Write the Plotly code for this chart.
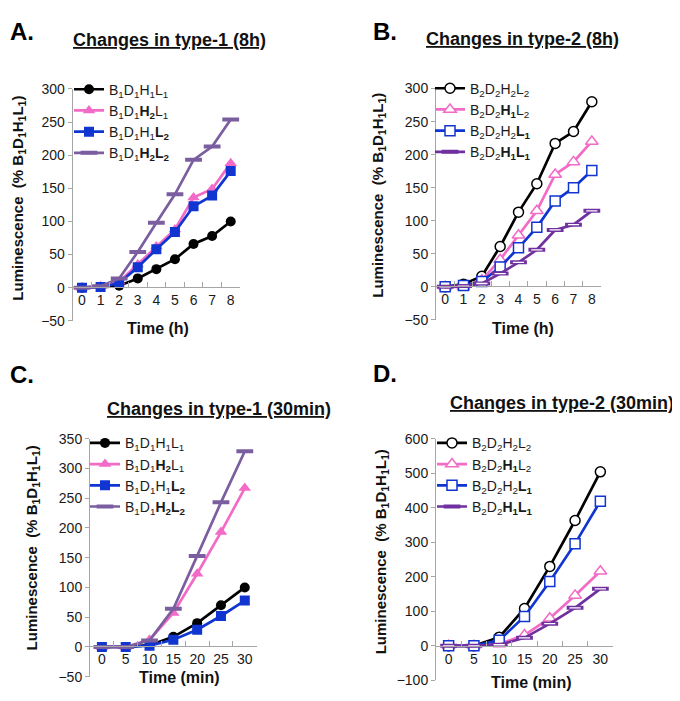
import plotly.graph_objects as go

# ---------------- data ----------------
hours = ["0", "1", "2", "3", "4", "5", "6", "7", "8"]
minutes = ["0", "5", "10", "15", "20", "25", "30"]

# Panel A: changes in type-1 (8h)
a_b1d1h1l1 = [0, 1, 3, 14, 28, 43, 66, 78, 100]
a_b1d1h2l1 = [0, 2, 9, 35, 62, 88, 136, 149, 188]
a_b1d1h1l2 = [0, 1, 7, 31, 58, 84, 123, 139, 176]
a_b1d1h2l2 = [0, 2, 14, 54, 98, 141, 193, 213, 254]

# Panel B: changes in type-2 (8h)
b_b2d2h2l2 = [0, 4, 16, 61, 113, 156, 217, 235, 280]
b_b2d2h1l2 = [0, 0, 10, 41, 78, 115, 170, 189, 220]
b_b2d2h2l1 = [0, 2, 8, 30, 59, 90, 130, 150, 176]
b_b2d2h1l1 = [0, 1, 5, 20, 37, 56, 86, 94, 115]

# Panel C: changes in type-1 (30min)
c_b1d1h1l1 = [0, 0, 3, 17, 40, 70, 100]
c_b1d1h2l1 = [0, 0, 12, 57, 123, 193, 267]
c_b1d1h1l2 = [0, 0, 2, 12, 29, 52, 78]
c_b1d1h2l2 = [0, 0, 11, 64, 153, 243, 329]

# Panel D: changes in type-2 (30min)
d_b2d2h2l2 = [0, 0, 25, 108, 230, 363, 504]
d_b2d2h1l2 = [0, 0, 5, 31, 80, 146, 216]
d_b2d2h2l1 = [0, 0, 16, 85, 186, 296, 419]
d_b2d2h1l1 = [0, 0, 3, 23, 64, 110, 165]

names_type1 = [
    "B<sub>1</sub>D<sub>1</sub>H<sub>1</sub>L<sub>1</sub>",
    "B<sub>1</sub>D<sub>1</sub><b>H<sub>2</sub></b>L<sub>1</sub>",
    "B<sub>1</sub>D<sub>1</sub>H<sub>1</sub><b>L<sub>2</sub></b>",
    "B<sub>1</sub>D<sub>1</sub><b>H<sub>2</sub>L<sub>2</sub></b>",
]
names_type2 = [
    "B<sub>2</sub>D<sub>2</sub>H<sub>2</sub>L<sub>2</sub>",
    "B<sub>2</sub>D<sub>2</sub><b>H<sub>1</sub></b>L<sub>2</sub>",
    "B<sub>2</sub>D<sub>2</sub>H<sub>2</sub><b>L<sub>1</sub></b>",
    "B<sub>2</sub>D<sub>2</sub><b>H<sub>1</sub>L<sub>1</sub></b>",
]

# page is 680x701; the HTML body has an 8px default margin
OFF = 8
W, H = 680 - OFF, 701 - OFF
FONT = "Arial, Liberation Sans, sans-serif"
BLACK = "#000000"
PINK = "#F26BC6"
BLUE = "#1035D0"
PURPLE_A = "#7B5EA0"
PURPLE_B = "#7030A0"
AXIS = "#A6A6A6"
TXT = "#1a1a1a"

fig = go.Figure()


def fx(p):
    """page x pixel -> paper fraction"""
    return (p - OFF) / W


def fy(p):
    """page y pixel -> paper fraction"""
    return (H - (p - OFF)) / H


panels = [
    dict(n=1, cats=hours,
         series=[a_b1d1h1l1, a_b1d1h2l1, a_b1d1h1l2, a_b1d1h2l2],
         names=names_type1, filled=True, purple=PURPLE_A,
         xd=(72.7, 240), yd=(82.7, 320), yr=(-50, 300), dt=50, zero=285.7,
         leg=(69, 67)),
    dict(n=2, cats=hours,
         series=[b_b2d2h2l2, b_b2d2h1l2, b_b2d2h2l1, b_b2d2h1l1],
         names=names_type2, filled=False, purple=PURPLE_B,
         xd=(436, 601), yd=(82.3, 319), yr=(-50, 300), dt=50, zero=284.3,
         leg=(430, 66)),
    dict(n=3, cats=minutes,
         series=[c_b1d1h1l1, c_b1d1h2l1, c_b1d1h1l2, c_b1d1h2l2],
         names=names_type1, filled=True, purple=PURPLE_A,
         xd=(90, 256.7), yd=(440.7, 684.3), yr=(-50, 350), dt=50, zero=653.3,
         leg=(85, 429)),
    dict(n=4, cats=minutes,
         series=[d_b2d2h2l2, d_b2d2h1l2, d_b2d2h2l1, d_b2d2h1l1],
         names=names_type2, filled=False, purple=PURPLE_B,
         xd=(436, 613), yd=(440.7, 688), yr=(-100, 600), dt=100, zero=653.3,
         leg=(432, 429)),
]

layout_axes = {}
for p in panels:
    n = p["n"]
    xa = "x" if n == 1 else f"x{n}"
    ya = "y" if n == 1 else f"y{n}"
    leg = "legend" if n == 1 else f"legend{n}"
    colors = [BLACK, PINK, BLUE, p["purple"]]
    symbols = ["circle", "triangle-up", "square", "line-ew"]
    sizes = [10, 11, 10, 12]
    for i, (vals, name) in enumerate(zip(p["series"], p["names"])):
        sym = symbols[i]
        if sym == "line-ew":
            marker = dict(symbol=sym, size=sizes[i], line=dict(color=colors[i], width=4))
        elif p["filled"]:
            marker = dict(symbol=sym, size=sizes[i], color=colors[i],
                          line=dict(color=colors[i], width=0))
        else:
            marker = dict(symbol=sym, size=sizes[i], color="white",
                          line=dict(color=colors[i], width=1.5))
        fig.add_trace(go.Scatter(
            x=p["cats"], y=vals, name=name, mode="lines+markers",
            line=dict(color=colors[i], width=2.7), marker=marker,
            xaxis=xa, yaxis=ya, legend=leg, showlegend=True,
        ))
    if not p["filled"]:
        # white core of the flat purple rectangle markers
        fig.add_trace(go.Scatter(
            x=p["cats"], y=p["series"][3], mode="markers",
            marker=dict(symbol="line-ew", size=8, line=dict(color="white", width=1.3)),
            xaxis=xa, yaxis=ya, showlegend=False, hoverinfo="skip",
        ))

    xkey = "xaxis" if n == 1 else f"xaxis{n}"
    ykey = "yaxis" if n == 1 else f"yaxis{n}"
    layout_axes[xkey] = dict(
        domain=[fx(p["xd"][0]), fx(p["xd"][1])],
        type="category", categoryorder="array", categoryarray=p["cats"],
        range=[-0.5, len(p["cats"]) - 0.5],
        anchor="free", position=fy(p["zero"]),
        showline=True, linecolor=AXIS, linewidth=1,
        ticks="inside", ticklen=5, tickcolor=AXIS, tickson="boundaries",
        tickangle=0,
        showgrid=False, zeroline=False, fixedrange=True,
        tickfont=dict(family=FONT, size=14, color=TXT),
    )
    layout_axes[ykey] = dict(
        domain=[fy(p["yd"][1]), fy(p["yd"][0])], anchor=xa,
        range=list(p["yr"]), dtick=p["dt"], tick0=0,
        showline=True, linecolor=AXIS, linewidth=1,
        ticks="outside", ticklen=4, tickcolor=AXIS,
        showgrid=False, zeroline=False, fixedrange=True,
        tickfont=dict(family=FONT, size=14, color=TXT),
    )
    layout_axes[leg] = dict(
        x=fx(p["leg"][0]), y=fy(p["leg"][1]), xanchor="left", yanchor="top",
        bgcolor="rgba(0,0,0,0)", font=dict(family=FONT, size=14, color=TXT),
        tracegroupgap=0, itemwidth=30,
    )

ann = []
# panel letters
for txt, x, y, anc in [("A.", 8, 8, "top"), ("B.", 371, 8, "top"),
                       ("C.", 8, 375, "middle"), ("D.", 371, 374, "middle")]:
    ann.append(dict(text=f"<b>{txt}</b>", x=fx(x), y=fy(y), xref="paper", yref="paper",
                    xanchor="left", yanchor=anc, showarrow=False,
                    font=dict(family=FONT, size=24, color="#000000")))
# titles
for txt, x, y in [("Changes in type-1 (8h)", 169, 33),
                  ("Changes in type-2 (8h)", 522, 32),
                  ("Changes in type-1 (30min)", 219, 410),
                  ("Changes in type-2 (30min)", 562, 404)]:
    ann.append(dict(text=f"<b><u>{txt}</u></b>", x=fx(x), y=fy(y), xref="paper", yref="paper",
                    xanchor="center", yanchor="middle", showarrow=False,
                    font=dict(family=FONT, size=18, color="#111111")))
# x-axis titles
for txt, x, y in [("Time (h)", 158, 328), ("Time (h)", 523, 328),
                  ("Time (min)", 179, 685), ("Time (min)", 531, 690)]:
    ann.append(dict(text=f"<b>{txt}</b>", x=fx(x), y=fy(y), xref="paper", yref="paper",
                    xanchor="center", yanchor="middle", showarrow=False,
                    font=dict(family=FONT, size=16, color="#111111")))
# y-axis titles
ytitle = "<b>Luminescence  (% B<sub>1</sub>D<sub>1</sub>H<sub>1</sub>L<sub>1</sub>)</b>"
for x, y in [(19, 195), (379, 192), (32, 553), (381, 557)]:
    ann.append(dict(text=ytitle, x=fx(x), y=fy(y), xref="paper", yref="paper",
                    xanchor="center", yanchor="middle", textangle=-90, showarrow=False,
                    font=dict(family=FONT, size=15, color="#111111")))

fig.update_layout(
    width=W, height=H, margin=dict(l=0, r=0, t=0, b=0),
    paper_bgcolor="white", plot_bgcolor="white",
    font=dict(family=FONT),
    annotations=ann,
    **layout_axes,
)

fig.write_html("out.html")
